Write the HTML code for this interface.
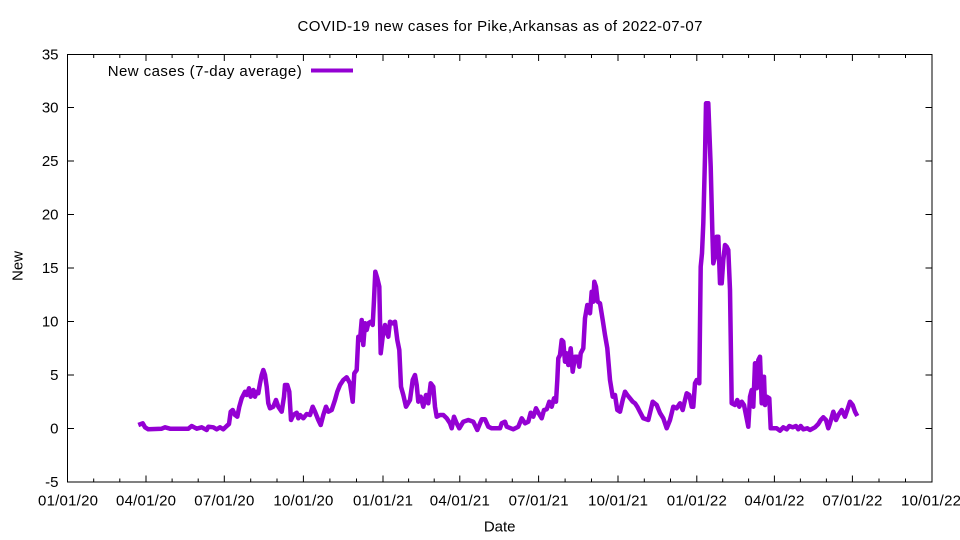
<!DOCTYPE html>
<html>
<head>
<meta charset="utf-8">
<style>
html,body{margin:0;padding:0;background:#fff;}
svg{display:block;}
text{font-family:"Liberation Sans",Arial,sans-serif;fill:#000;}
</style>
</head>
<body>
<svg width="960" height="540" viewBox="0 0 960 540" xmlns="http://www.w3.org/2000/svg">
<rect x="0" y="0" width="960" height="540" fill="#fff"/>
<!-- title -->
<text x="500" y="31" font-size="15" text-anchor="middle" textLength="405" lengthAdjust="spacing">COVID-19 new cases for Pike,Arkansas as of 2022-07-07</text>

<!-- y ticks -->
<g stroke="#000" stroke-width="1">
<line x1="67.5" y1="54.5" x2="74" y2="54.5"/><line x1="932" y1="54.5" x2="925.5" y2="54.5"/>
<line x1="67.5" y1="107.5" x2="74" y2="107.5"/><line x1="932" y1="107.5" x2="925.5" y2="107.5"/>
<line x1="67.5" y1="161" x2="74" y2="161"/><line x1="932" y1="161" x2="925.5" y2="161"/>
<line x1="67.5" y1="214.5" x2="74" y2="214.5"/><line x1="932" y1="214.5" x2="925.5" y2="214.5"/>
<line x1="67.5" y1="268" x2="74" y2="268"/><line x1="932" y1="268" x2="925.5" y2="268"/>
<line x1="67.5" y1="321.5" x2="74" y2="321.5"/><line x1="932" y1="321.5" x2="925.5" y2="321.5"/>
<line x1="67.5" y1="375" x2="74" y2="375"/><line x1="932" y1="375" x2="925.5" y2="375"/>
<line x1="67.5" y1="428.5" x2="74" y2="428.5"/><line x1="932" y1="428.5" x2="925.5" y2="428.5"/>
</g>
<g font-size="15" text-anchor="end">
<text x="58.5" y="59.5">35</text>
<text x="58.5" y="112.5">30</text>
<text x="58.5" y="166">25</text>
<text x="58.5" y="219.5">20</text>
<text x="58.5" y="273">15</text>
<text x="58.5" y="326.5">10</text>
<text x="58.5" y="380">5</text>
<text x="58.5" y="433.5">0</text>
<text x="58.5" y="487">-5</text>
</g>

<!-- x ticks major -->
<g stroke="#000" stroke-width="1">
<line x1="146" y1="482" x2="146" y2="475.5"/><line x1="146" y1="54.5" x2="146" y2="61"/>
<line x1="224.3" y1="482" x2="224.3" y2="475.5"/><line x1="224.3" y1="54.5" x2="224.3" y2="61"/>
<line x1="303.4" y1="482" x2="303.4" y2="475.5"/><line x1="303.4" y1="54.5" x2="303.4" y2="61"/>
<line x1="383" y1="482" x2="383" y2="475.5"/><line x1="383" y1="54.5" x2="383" y2="61"/>
<line x1="459.8" y1="482" x2="459.8" y2="475.5"/><line x1="459.8" y1="54.5" x2="459.8" y2="61"/>
<line x1="538.6" y1="482" x2="538.6" y2="475.5"/><line x1="538.6" y1="54.5" x2="538.6" y2="61"/>
<line x1="618" y1="482" x2="618" y2="475.5"/><line x1="618" y1="54.5" x2="618" y2="61"/>
<line x1="696.8" y1="482" x2="696.8" y2="475.5"/><line x1="696.8" y1="54.5" x2="696.8" y2="61"/>
<line x1="774.4" y1="482" x2="774.4" y2="475.5"/><line x1="774.4" y1="54.5" x2="774.4" y2="61"/>
<line x1="852.4" y1="482" x2="852.4" y2="475.5"/><line x1="852.4" y1="54.5" x2="852.4" y2="61"/>
</g>
<!-- x ticks minor -->
<g stroke="#000" stroke-width="1">
<line x1="93.7" y1="482" x2="93.7" y2="478.5"/><line x1="93.7" y1="54.5" x2="93.7" y2="58"/>
<line x1="119.8" y1="482" x2="119.8" y2="478.5"/><line x1="119.8" y1="54.5" x2="119.8" y2="58"/>
<line x1="172.1" y1="482" x2="172.1" y2="478.5"/><line x1="172.1" y1="54.5" x2="172.1" y2="58"/>
<line x1="198.2" y1="482" x2="198.2" y2="478.5"/><line x1="198.2" y1="54.5" x2="198.2" y2="58"/>
<line x1="250.7" y1="482" x2="250.7" y2="478.5"/><line x1="250.7" y1="54.5" x2="250.7" y2="58"/>
<line x1="277" y1="482" x2="277" y2="478.5"/><line x1="277" y1="54.5" x2="277" y2="58"/>
<line x1="329.9" y1="482" x2="329.9" y2="478.5"/><line x1="329.9" y1="54.5" x2="329.9" y2="58"/>
<line x1="356.5" y1="482" x2="356.5" y2="478.5"/><line x1="356.5" y1="54.5" x2="356.5" y2="58"/>
<line x1="408.6" y1="482" x2="408.6" y2="478.5"/><line x1="408.6" y1="54.5" x2="408.6" y2="58"/>
<line x1="434.2" y1="482" x2="434.2" y2="478.5"/><line x1="434.2" y1="54.5" x2="434.2" y2="58"/>
<line x1="486" y1="482" x2="486" y2="478.5"/><line x1="486" y1="54.5" x2="486" y2="58"/>
<line x1="512.3" y1="482" x2="512.3" y2="478.5"/><line x1="512.3" y1="54.5" x2="512.3" y2="58"/>
<line x1="565.1" y1="482" x2="565.1" y2="478.5"/><line x1="565.1" y1="54.5" x2="565.1" y2="58"/>
<line x1="591.5" y1="482" x2="591.5" y2="478.5"/><line x1="591.5" y1="54.5" x2="591.5" y2="58"/>
<line x1="644.3" y1="482" x2="644.3" y2="478.5"/><line x1="644.3" y1="54.5" x2="644.3" y2="58"/>
<line x1="670.5" y1="482" x2="670.5" y2="478.5"/><line x1="670.5" y1="54.5" x2="670.5" y2="58"/>
<line x1="722.7" y1="482" x2="722.7" y2="478.5"/><line x1="722.7" y1="54.5" x2="722.7" y2="58"/>
<line x1="748.6" y1="482" x2="748.6" y2="478.5"/><line x1="748.6" y1="54.5" x2="748.6" y2="58"/>
<line x1="800.4" y1="482" x2="800.4" y2="478.5"/><line x1="800.4" y1="54.5" x2="800.4" y2="58"/>
<line x1="826.4" y1="482" x2="826.4" y2="478.5"/><line x1="826.4" y1="54.5" x2="826.4" y2="58"/>
<line x1="879" y1="482" x2="879" y2="478.5"/><line x1="879" y1="54.5" x2="879" y2="58"/>
<line x1="905.5" y1="482" x2="905.5" y2="478.5"/><line x1="905.5" y1="54.5" x2="905.5" y2="58"/>
</g>
<g font-size="15" text-anchor="middle">
<text x="68" y="505.5" textLength="60" lengthAdjust="spacing">01/01/20</text>
<text x="146" y="505.5" textLength="60" lengthAdjust="spacing">04/01/20</text>
<text x="224.3" y="505.5" textLength="60" lengthAdjust="spacing">07/01/20</text>
<text x="303.4" y="505.5" textLength="60" lengthAdjust="spacing">10/01/20</text>
<text x="383" y="505.5" textLength="60" lengthAdjust="spacing">01/01/21</text>
<text x="459.8" y="505.5" textLength="60" lengthAdjust="spacing">04/01/21</text>
<text x="538.6" y="505.5" textLength="60" lengthAdjust="spacing">07/01/21</text>
<text x="618" y="505.5" textLength="60" lengthAdjust="spacing">10/01/21</text>
<text x="696.8" y="505.5" textLength="60" lengthAdjust="spacing">01/01/22</text>
<text x="774.4" y="505.5" textLength="60" lengthAdjust="spacing">04/01/22</text>
<text x="852.4" y="505.5" textLength="60" lengthAdjust="spacing">07/01/22</text>
<text x="931" y="505.5" textLength="60" lengthAdjust="spacing">10/01/22</text>
</g>

<!-- axis labels -->
<text x="499.7" y="531.5" font-size="15" text-anchor="middle">Date</text>
<text transform="translate(22.5,266) rotate(-90)" font-size="15" text-anchor="middle">New</text>

<!-- border -->
<rect x="67.5" y="54.5" width="864.5" height="427.5" fill="none" stroke="#000" stroke-width="1"/>

<!-- legend -->
<text x="301.7" y="76" font-size="15" text-anchor="end" textLength="194" lengthAdjust="spacing">New cases (7-day average)</text>
<line x1="311" y1="70.5" x2="353" y2="70.5" stroke="#9400D3" stroke-width="4"/>

<!-- series -->
<polyline fill="none" stroke="#9400D3" stroke-width="4.5" stroke-linejoin="round" stroke-linecap="butt" points="
138.3,425 142.7,423.3 145,427.3 148.3,429.3 161.7,428.7 165,427.3 170,428.7 188.3,428.7 191.7,426 196.7,428.7 201.7,427.3 206.7,430 208.3,426.7 213.3,427.3 216.7,429.3 220,427.3 223.3,429.3 226.7,426 229,424 230.7,411.7 232.7,410 235,415 237.3,416.7 239.3,406.7 241.7,398.3 245,391.7 246.7,395 249,388.3 250.7,396.7 253.3,390 255,396.7 256.7,391.7 258.3,393.3 260,383.3 261.7,375 263.3,370 265,375 266.7,386.7 268.3,403.3 270,408.3 273.3,406.7 276,400 278.3,406.7 281.7,411.7 284,396.7 285,385 287.3,385 289.3,391.7 291,420 293.3,415 296.7,412.7 298.3,418.3 300,415
303.3,418.3 306.7,414 310,415 312.7,406.7 315,411.7 318.3,420 320.7,425 323.3,415 326,406.7 328.3,411.7 331.7,410 335,400 337.3,391.7 340,385 343.3,380 346.7,377.3 350,383.3 352.7,401.7 354.3,373.3 356.7,370 358.3,336.7 360,340 361.7,320 363.3,345 365,323.3 366.7,330 368.3,323.3 370.7,321.7 372.7,325 374,300 375.3,271.7 377.3,278.3 379.3,286.7 380.7,353.3 382.7,336.7 385,325 386.7,331.7 388.3,336.7 390,321.7 392.7,323.3 395,321.7 397.3,340 399.3,350 401,386.7 403.3,395 406,406.7 410,400 412.7,380 415,375 416.7,385 418.3,401.7 420.7,396.7 423.3,406.7 426,395 428.3,403.3 430.7,383.3 433.3,386.7 435,406.7 436.7,416.7 440,415 443.3,415 446.7,418.3 450,423.3 451.7,428.3 454,416.7 456.7,423.3 459.3,428.3
463.3,421.7 468.3,420 473.3,421.7 477.3,430 481.7,419.3 485,419.3 488.3,426.7 491.7,428.3 500,428.3 501.7,423.3 505,421.7 506.7,426.7 513.3,429.3 518.3,426.7 521.7,418.3 525,423.3 528.3,421.7 530.7,412.7 533.3,416.7 536,408.3 538.3,412.7 541.7,418.3 544,410 546.7,409.3 549.3,401.7 551.7,406.7 554,398.3 556,401.7 557.3,380 558.3,358.3 560,355 561.7,340 563.3,341.7 565,361.7 566.7,353.3 568.3,365 570.7,348.3 572.7,371.7 575,356.7 577.3,356.7 579.3,366.7 580.7,353.3 583.3,348.3 585,318.3 587.3,305 590,313.3 591.7,291.7 593.3,301.7 594.3,281.7 596,286.7 597.7,301.7 600,303.3 602.7,320 605,335 607.3,348.3 610,380 612.7,396.7 615,395 617.3,410 620,411.7 622.7,400 625,391.7 627.3,395 630,398.3 632.7,401.7 635,403.3 637.3,406.7 640,412 643.3,418.3 648.3,420 652.7,401.7 656.7,405 660,413
663.3,418.3 666.7,428.3 670,420 673.3,406.7 676.7,408.3 680,403.3 682.7,410 685,400 686.7,393.3 689.3,395 691.7,406.7 693.3,406.7 695,383.3 696.7,380 699.3,383.3 700.7,266.7 702,253.3 703.3,223.3 705,156.7 706,103.3 708.3,103.3 709.3,130 710.7,166.7 712.3,230 713.3,263.3 715,256.7 716.7,236.7 718.3,236.7 720,283.3 721.7,283.3 723.3,260 725,245 726.7,246.7 728.3,250 730,290 731.7,403.3 735,405 737.3,400 739.3,406.7 741.7,401.7 744,405 746,415 748.3,426.7 750,396.7 751.7,390 753.3,406.7 755,363.3 756.7,388.3 758.3,360 760,356.7 761.7,403.3 764,376.7 765,405 766.7,396.7 769.3,398.3 770.7,428.3
776.7,428.3 780,430.7 783.3,427.3 786.7,429.3 789.3,426 792.7,427.3 796,426 798.3,429.3 800.7,426 803.3,429.3 807.3,428.3 810,430 815,427.3 818.3,424 820.7,420 823.3,417.3 826,420 828.3,428.3 830,423.3 833.3,411.7 836,420 838.3,415 841.7,410 845,416.7 846.7,411.7 850,401.7 852.7,405 855,411.7 857.3,416"/>
</svg>
</body>
</html>
